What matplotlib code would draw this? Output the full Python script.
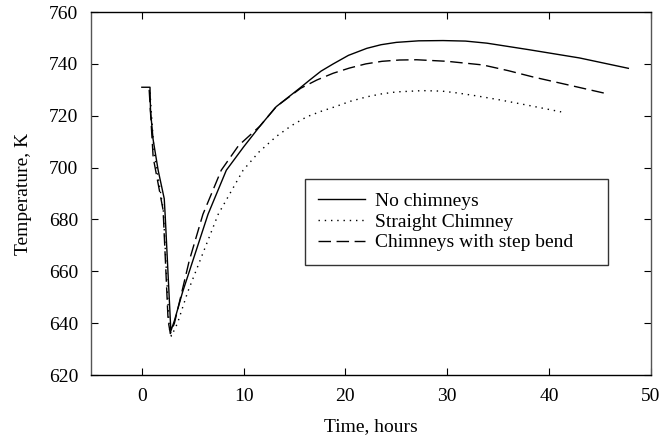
import numpy as np
import matplotlib.pyplot as plt

plt.rcParams['font.family'] = ['Liberation Serif', 'DejaVu Serif']
plt.rcParams['font.size'] = 14

# temperature histories, time in hours
t_none = [0, 0.8, 0.85, 1.1, 1.6, 2.2, 2.3, 2.85, 3.2, 4.0, 5.0, 6.5, 8.3, 10.0,
          11.6, 13.2, 15.5, 16.5, 17.6, 18.8, 20.3, 22.1, 23.5, 25.0, 27.2, 29.6,
          31.8, 33.9, 38.0, 43.0, 47.8]
T_none = [731, 731, 722, 711, 699, 688, 681, 637, 641, 652, 664, 682, 699, 708,
          716, 723.5, 730.6, 733.8, 737.2, 740, 743.3, 746, 747.4, 748.3, 748.9, 749,
          748.8, 748, 745.5, 742.3, 738.3]

t_straight = [0.8, 1.2, 2.1, 2.7, 2.9, 3.5, 4.5, 5.7, 7.5, 9.95, 11.5, 13.2, 14.7,
              16.2, 17.6, 19.0, 20.5, 22.1, 23.5, 25.0, 27.6, 29.5, 31.0, 33.0, 35.2,
              38.0, 41.2]
T_straight = [729, 706, 684, 638, 635, 640, 652, 664, 682, 699, 706, 712, 716.2,
              719.6, 721.7, 723.5, 725.6, 727.3, 728.4, 729.2, 729.7, 729.5, 728.8, 727.6, 726.1,
              724, 721.5]

t_bend = [0.72, 1.11, 2.09, 2.58, 2.8, 3.2, 4.65, 6.0, 7.8, 9.5, 11.6, 13.2,
          15.6, 17.2, 18.8, 20.4, 22.0, 23.6, 25.3, 27.0, 30.0, 33.5, 36.0, 38.4,
          42.0, 45.8]
T_bend = [730, 704, 683.6, 641, 636, 640, 664, 682, 699, 708.5, 716, 723.5,
          730.6, 733.8, 736.4, 738.4, 740, 741, 741.5, 741.6, 741, 739.6, 737.4, 735,
          731.8, 728.4]

fig = plt.figure(figsize=(6.64, 4.46), dpi=100)
ax = fig.add_axes([0.137, 0.159, 0.843, 0.814])

ax.plot(t_none, T_none, color='black', linewidth=1.0, linestyle='-', label='No chimneys')
ax.plot(t_straight, T_straight, color='black', linewidth=1.0, linestyle=(0, (1, 3.5)),
        label='Straight Chimney')
ax.plot(t_bend, T_bend, color='black', linewidth=1.0, linestyle=(0, (9, 4)),
        label='Chimneys with step bend')

ax.set_xlim(-5, 50)
ax.set_ylim(620, 760)
ax.set_xticks(np.arange(0, 51, 10))
ax.set_yticks(np.arange(620, 761, 20))
ax.tick_params(direction='in', length=5, width=0.8, top=True, right=True, pad=9)
for side in ['left', 'right']:
    ax.spines[side].set_color('#555555')
for sp in ax.spines.values():
    sp.set_linewidth(1.0)

ax.set_xlabel('Time, hours', labelpad=10)
ax.set_ylabel('Temperature, K', labelpad=12)

leg = ax.legend(loc='upper left', bbox_to_anchor=(0.382, 0.284, 0.541, 0.256), mode='expand',
                frameon=True, fancybox=False, edgecolor='black', handlelength=2.4,
                borderaxespad=0, borderpad=0.7, labelspacing=0.15, handletextpad=0.5)
leg.get_frame().set_linewidth(1.0)

plt.savefig('out.png', dpi=100)
